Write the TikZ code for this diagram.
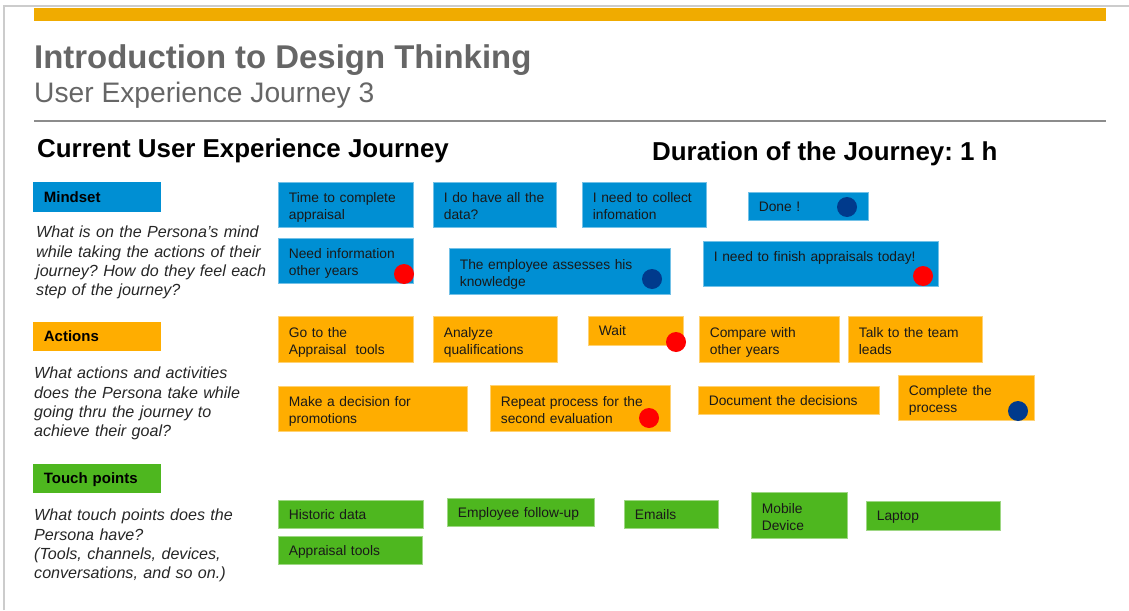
\documentclass[tikz,border=0pt]{standalone}
\usepackage{fontspec}
\setmainfont{Liberation Sans}
\usepackage{tikz}
\usetikzlibrary{backgrounds}
\frenchspacing

\definecolor{sapgold}{HTML}{F0AB00}
\definecolor{mindblue}{HTML}{008FD3}
\definecolor{actorange}{HTML}{FFAD00}
\definecolor{touchgreen}{HTML}{4EB71F}
\definecolor{dotred}{HTML}{FF0000}
\definecolor{dotblue}{HTML}{003A8C}
\definecolor{titlegray}{HTML}{666666}

\tikzset{
  card/.style={rectangle, anchor=north west, inner xsep=10.5pt, inner ysep=0pt,
    align=left, text=black!90, line width=0.7pt, text height=10.2pt, text depth=0pt,
    font=\fontsize{13.8}{16.7}\selectfont},
  twoline/.style={text height=16pt, text depth=20pt},
  cardsize/.style 2 args={minimum width=#1pt, minimum height=#2pt,
    /utils/exec={\pgfmathsetlengthmacro{\cardtw}{#1pt-21pt}}, text width=\cardtw},
  mindcard/.style={card, fill=mindblue, draw=mindblue!55!white},
  actcard/.style={card, fill=actorange, draw=actorange!55!white},
  touchcard/.style={card, fill=touchgreen, draw=touchgreen!55!white},
  rowlabel/.style={card, cardsize={128}{30}, draw=none, text=black,
    font=\bfseries\fontsize{15}{18}\selectfont},
  question/.style={anchor=north west, align=left, inner sep=0pt, text width=250pt,
    text=black!85, font=\itshape\fontsize{16.1}{19.3}\selectfont},
  dot/.style={circle, inner sep=0pt, minimum size=20pt}
}

\begin{document}
\begin{tikzpicture}[x=1pt, y=-1pt]
        \useasboundingbox (0,0) rectangle (1129,610);
        % slide frame and header
        \draw[black!20, line width=1.2pt] (4,610) -- (4,6) -- (1129,6);
        \fill[sapgold] (34,8) rectangle (1106,21);
        \node[anchor=base west, inner sep=0pt, text=titlegray, font=\bfseries\fontsize{32.9}{38}\selectfont] (title) at (34,68) {Introduction to Design Thinking};
        \node[anchor=base west, inner sep=0pt, text=titlegray, font=\fontsize{28.2}{33}\selectfont] (subtitle) at (34,102) {User Experience Journey 3};
        \draw[black!45, line width=1.3pt] (34,121) -- (1106,121);
        \node[anchor=base west, inner sep=0pt, font=\bfseries\fontsize{25.9}{30}\selectfont] (journey) at (37,157) {Current User Experience Journey};
        \node[anchor=base west, inner sep=0pt, font=\bfseries\fontsize{25.9}{30}\selectfont] (duration) at (652,160) {Duration of the Journey: 1 h};

        % row labels
        \node[rowlabel, fill=mindblue] (mindset) at (33,182) {Mindset};
        \node[question] (mindq) at (36,226) {What is on the Persona’s mind\\while taking the actions of their\\journey? How do they feel each\\step of the journey?};
        \node[rowlabel, fill=actorange, minimum height=29pt] (actions) at (33,322) {Actions};
        \node[question] (actq) at (34,367) {What actions and activities\\does the Persona take while\\going thru the journey to\\achieve their goal?};
        \node[rowlabel, fill=touchgreen, minimum height=29pt] (touch) at (33,464) {Touch points};
        \node[question] (touchq) at (34,509) {What touch points does the\\Persona have?\\(Tools, channels, devices,\\conversations, and so on.)};

        % mindset
        \node[mindcard, twoline, cardsize={135}{45}] (mind1) at (278,182) {Time to complete\\appraisal};
        \node[mindcard, twoline, cardsize={123}{45}] (mind2) at (433,182) {I do have all the\\data?};
        \node[mindcard, twoline, cardsize={124}{45}] (mind3) at (582,182) {I need to collect\\infomation};
        \node[mindcard, cardsize={120}{28}] (mind4) at (748,192) {Done !};
        \node[mindcard, twoline, cardsize={135}{45}] (mind5) at (278,238) {Need information\\other years};
        \node[mindcard, twoline, cardsize={221}{46}] (mind6) at (449,248) {The employee assesses his\\knowledge};
        \node[mindcard, twoline, cardsize={235}{45}] (mind7) at (703,241) {I need to finish appraisals today!};

        % actions
        \node[actcard, twoline, cardsize={135}{46}] (act1) at (278,316) {Go to the\\Appraisal\ \ tools};
        \node[actcard, twoline, cardsize={124}{46}] (act2) at (433,316) {Analyze\\qualifications};
        \node[actcard, cardsize={95}{29}] (act3) at (588,316) {Wait};
        \node[actcard, twoline, cardsize={140}{46}] (act4) at (699,316) {Compare with\\other years};
        \node[actcard, twoline, cardsize={134}{46}] (act5) at (848,316) {Talk to the team\\leads};
        \node[actcard, twoline, cardsize={189}{45}] (act6) at (278,386) {Make a decision for\\promotions};
        \node[actcard, twoline, cardsize={180}{46}] (act7) at (490,385) {Repeat process for the\\second evaluation};
        \node[actcard, cardsize={181}{28}] (act8) at (698,386) {Document the decisions};
        \node[actcard, twoline, cardsize={136}{45}] (act9) at (898,375) {Complete the\\process};

        % touch points
        \node[touchcard, cardsize={145}{28}] (touch1) at (278,500) {Historic data};
        \node[touchcard, cardsize={144}{28}] (touch2) at (278,536) {Appraisal tools};
        \node[touchcard, cardsize={147}{28}] (touch3) at (447,498) {Employee follow-up};
        \node[touchcard, cardsize={94}{28}] (touch4) at (624,500) {Emails};
        \node[touchcard, twoline, cardsize={96}{46}] (touch5) at (751,492) {Mobile\\Device};
        \node[touchcard, cardsize={134}{29}] (touch6) at (866,501) {Laptop};

        % mood dots
        \node[dot, fill=dotred] (dot1) at (404,274) {};
        \node[dot, fill=dotblue] (dot2) at (652,279) {};
        \node[dot, fill=dotblue] (dot3) at (847,207) {};
        \node[dot, fill=dotred] (dot4) at (923,276) {};
        \node[dot, fill=dotred] (dot5) at (676,342) {};
        \node[dot, fill=dotred] (dot6) at (649,418) {};
        \node[dot, fill=dotblue] (dot7) at (1018,411) {};
    \end{tikzpicture}
\end{document}
